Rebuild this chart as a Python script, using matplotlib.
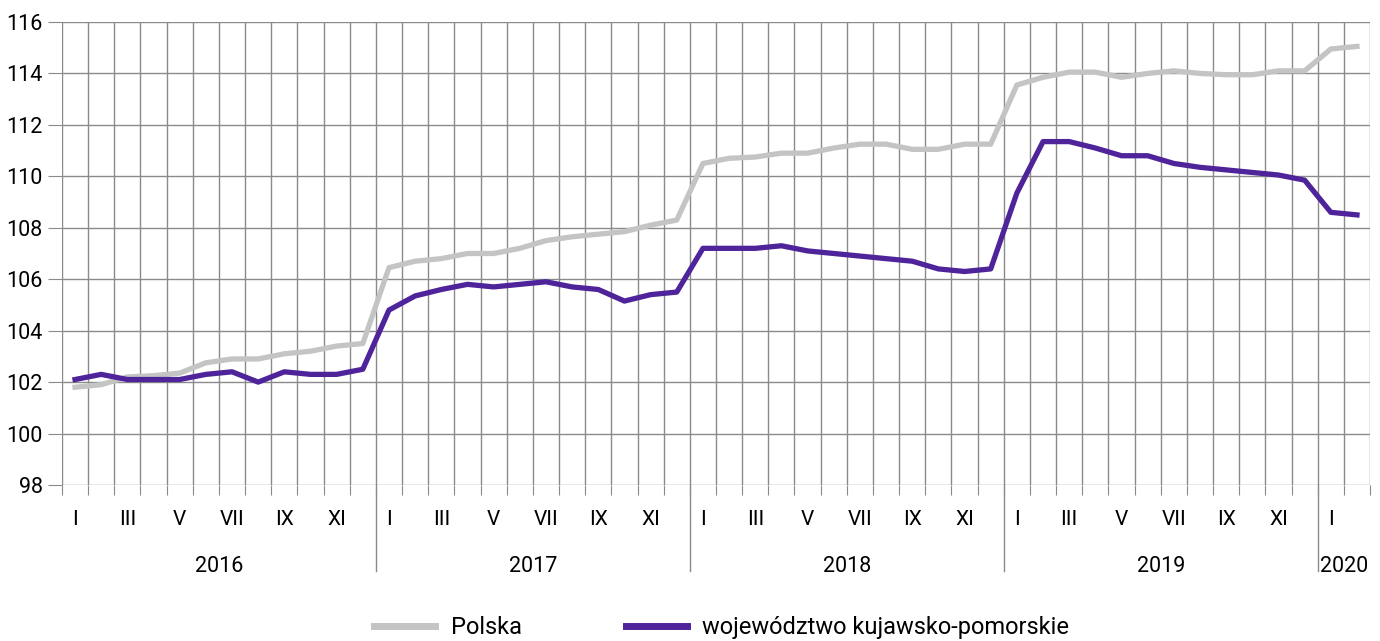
import matplotlib
matplotlib.use("Agg")
from matplotlib import pyplot as plt
from matplotlib import font_manager

# monthly values, I.2016 - II.2020
polska = [
    101.8, 101.9, 102.2, 102.25, 102.35, 102.75, 102.9, 102.9, 103.1, 103.2, 103.4, 103.5,
    106.45, 106.7, 106.8, 107.0, 107.0, 107.2, 107.5, 107.65, 107.75, 107.85, 108.1, 108.3,
    110.5, 110.7, 110.75, 110.9, 110.9, 111.1, 111.25, 111.25, 111.05, 111.05, 111.25, 111.25,
    113.55, 113.85, 114.05, 114.05, 113.85, 114.0, 114.1, 114.0, 113.95, 113.95, 114.1, 114.1,
    114.95, 115.05,
]
kujawsko = [
    102.1, 102.3, 102.1, 102.1, 102.1, 102.3, 102.4, 102.0, 102.4, 102.3, 102.3, 102.5,
    104.8, 105.35, 105.6, 105.8, 105.7, 105.8, 105.9, 105.7, 105.6, 105.15, 105.4, 105.5,
    107.2, 107.2, 107.2, 107.3, 107.1, 107.0, 106.9, 106.8, 106.7, 106.4, 106.3, 106.4,
    109.35, 111.35, 111.35, 111.1, 110.8, 110.8, 110.5, 110.35, 110.25, 110.15, 110.05, 109.85,
    108.6, 108.5,
]
months = ["I", "II", "III", "IV", "V", "VI", "VII", "VIII", "IX", "X", "XI", "XII"]
years = ["2016", "2017", "2018", "2019", "2020"]
series_names = ["Polska", "województwo kujawsko-pomorskie"]

installed = {f.name for f in font_manager.fontManager.ttflist}
family = "Liberation Sans Narrow" if "Liberation Sans Narrow" in installed else "Roboto"
plt.rcParams["font.family"] = [family, "DejaVu Sans"]
plt.rcParams["font.size"] = 15

grid_color = "#8a8a8a"
gray = "#c4c4c4"
purple = "#4f2399"

n = len(polska)
x = list(range(n))

fig = plt.figure(figsize=(13.8, 6.41), dpi=100)
ax = fig.add_axes([0.0449, 0.2434, 0.9479, 0.7223])

for k in range(n + 1):
    ax.axvline(k - 0.5, color=grid_color, lw=1, zorder=1)
for v in range(98, 117, 2):
    ax.axhline(v, color=grid_color, lw=1, zorder=1)

ax.plot(x, polska, color=gray, lw=3.8, label=series_names[0], zorder=3)
ax.plot(x, kujawsko, color=purple, lw=3.8, label=series_names[1], zorder=4)

ax.set_xlim(-0.5, n - 0.5)
ax.set_ylim(98, 116)
ax.set_yticks(range(98, 117, 2))
ax.tick_params(axis="y", length=10, color=grid_color, pad=4, labelsize=15.5)
ax.set_xticks([k - 0.5 for k in range(n + 1)])
ax.set_xticklabels([])
ax.tick_params(axis="x", length=7, color=grid_color)
for s in ax.spines.values():
    s.set_visible(False)

trans = ax.get_xaxis_transform()
for i in range(n):
    m = i % 12
    if m % 2 == 0:
        ax.text(i, -0.075, months[m], transform=trans, ha="center", va="center",
                fontsize=15)
for j, yr in enumerate(years):
    start = j * 12 - 0.5
    end = min(start + 12, n - 0.5)
    ax.text((start + end) / 2, -0.175, yr, transform=trans, ha="center",
            va="center", fontsize=15.5)
    if j > 0:
        ax.plot([start, start], [0, -0.185], transform=trans, color=grid_color,
                lw=1, clip_on=False)

leg = fig.legend(loc="lower center", bbox_to_anchor=(0.523, -0.03), ncol=2,
                 frameon=False, handlelength=2.6, handletextpad=0.65,
                 columnspacing=4.4, fontsize=17)
for h in leg.get_lines():
    h.set_linewidth(5)

fig.savefig("out.png", dpi=100)
